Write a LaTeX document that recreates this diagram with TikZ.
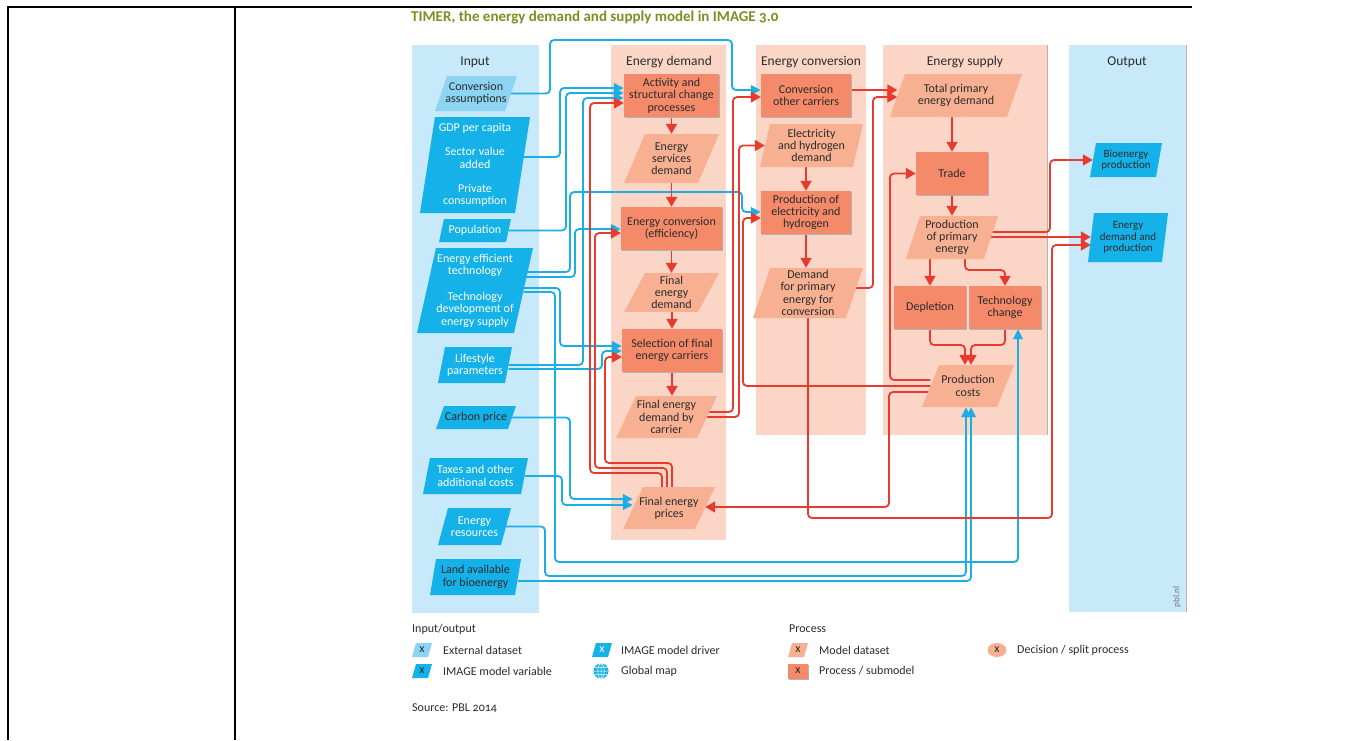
\documentclass[tikz,border=0pt]{standalone}
\usepackage{fontspec}
\setmainfont{Carlito}[Numbers=OldStyle]
\usetikzlibrary{arrows.meta,calc,shapes.geometric}
\pgfdeclarelayer{bg}\pgfdeclarelayer{wires}\pgfsetlayers{bg,wires,main}
\definecolor{inbg}{HTML}{C7E9F9}
\definecolor{peach}{HTML}{FBD6C6}
\definecolor{procfill}{HTML}{F48A69}
\definecolor{modfill}{HTML}{F8B093}
\definecolor{extblue}{HTML}{8DD3F2}
\definecolor{cyanb}{HTML}{14B2E8}
\definecolor{redl}{HTML}{E63B2E}
\definecolor{bluel}{HTML}{1AAEE5}
\definecolor{txt}{HTML}{2B2B2B}
\definecolor{titlec}{HTML}{7F8E22}
\newcommand\dfont{\fontsize{12}{12.3}\selectfont}
\newcommand\hfont{\fontsize{13.5}{15}\selectfont}
\newcommand\ofont{\fontsize{11}{11.6}\selectfont}
\newcommand\tfont{\fontsize{15}{17}\selectfont\bfseries}
% #1 name, #2 x, #3 y, #4 total width, #5 height, #6 slant, #7 style, #8 text
\newcommand\pgram[8]{%
  \fill[#7] ({#2-#4/2},{#3+#5/2}) -- ({#2+#4/2-#6},{#3+#5/2}) -- ({#2+#4/2},{#3-#5/2}) -- ({#2-#4/2+#6},{#3-#5/2}) -- cycle;
  \node[#7, fill=none, minimum width={#4-#6}, minimum height=#5] (#1) at (#2,#3) {#8};}
\tikzset{
  base/.style={font=\dfont, align=center, inner sep=0pt, text=txt},
  dsext/.style={base, fill=extblue},
  dsvar/.style={base, fill=cyanb},
  dsdrv/.style={base, fill=cyanb, text=white},
  dsmod/.style={base, fill=modfill},
  dsout/.style={base, fill=cyanb, font=\ofont},
  proc/.style={base, rectangle, fill=procfill,
    preaction={fill=black!30, transform canvas={xshift=1.2pt,yshift=-1.2pt}}},
  hd/.style={font=\hfont, text=txt, inner sep=0pt},
  legt/.style={font=\dfont, text=txt, anchor=west, inner sep=0pt},
  wire/.style={line width=1.8pt, rounded corners=4pt},
  rw/.style={wire, draw=redl, -{Triangle[length=10pt,width=11pt]}},
  bw/.style={wire, draw=bluel, -{Triangle[length=10pt,width=9.5pt]}}
}
\begin{document}
\begin{tikzpicture}[x=1pt,y=-1pt]
\useasboundingbox (0,0) rectangle (1362,740);
\begin{pgfonlayer}{bg}
\fill[white] (0,0) rectangle (1362,740);
\fill[inbg] (412,45) rectangle (539,613);
\fill[peach] (611,45) rectangle (726,540);
\fill[peach] (756,45) rectangle (866,435);
\fill[peach] (883,45) rectangle (1047,435);
\draw[black!30, line width=1pt] (1047,45) -- (1047,435);
\fill[inbg] (1069,45) rectangle (1186,612);
\draw[black!30, line width=1pt] (1186,45) -- (1186,612);
\end{pgfonlayer}
% table rules
\draw[line width=1.4pt] (8,740) -- (8,7) -- (1192,7);
\draw[line width=1.4pt] (235,7) -- (235,740);
% title
\node[font=\tfont, text=titlec, anchor=west, inner sep=0pt] (title) at (411,18) {TIMER, the energy demand and supply model in IMAGE 3.0};
% headers
\node[hd] (hin) at (475,62) {Input};
\node[hd] (hdem) at (669,62) {Energy demand};
\node[hd] (hconv) at (811,62) {Energy conversion};
\node[hd] (hsup) at (965,62) {Energy supply};
\node[hd] (hout) at (1127,62) {Output};
\node[font=\fontsize{9}{10}\selectfont, text=black!55, rotate=90, inner sep=0pt] (pbl) at (1177,597) {pbl.nl};
% inputs
\pgram{ca}{476}{93.5}{82}{35}{12}{dsext}{Conversion\\assumptions}
\pgram{gdp}{475}{165}{110}{96}{15}{dsdrv}{GDP per capita\\[12pt]Sector value\\added\\[12pt]Private\\consumption}
\pgram{pop}{475}{230.5}{72}{23}{5}{dsdrv}{Population}
\pgram{eet}{475}{290.5}{116}{85}{19}{dsdrv}{Energy efficient\\technology\\[14pt]Technology\\development of\\energy supply}
\pgram{life}{475}{365}{74}{36}{7}{dsdrv}{Lifestyle\\parameters}
\pgram{carb}{476}{417.5}{80}{23}{8}{dsvar}{Carbon price}
\pgram{tax}{475.5}{476}{105}{36}{7}{dsdrv}{Taxes and other\\additional costs}
\pgram{res}{474.5}{526.5}{73}{37}{10}{dsdrv}{Energy\\resources}
\pgram{land}{475.5}{577}{91}{36}{6}{dsvar}{Land available\\for bioenergy}
% energy demand
\node[proc, minimum width=95, minimum height=43] (act) at (671.5,95.5) {Activity and\\structural change\\processes};
\pgram{esd}{671.5}{158.5}{95}{49}{21}{dsmod}{Energy\\services\\demand}
\node[proc, minimum width=101, minimum height=43] (ec) at (671.5,228.5) {Energy conversion\\(efficiency)};
\pgram{fed}{671.5}{292.5}{95}{39}{21}{dsmod}{Final\\energy\\demand}
\node[proc, minimum width=100, minimum height=43] (sel) at (672,350.5) {Selection of final\\energy carriers};
\pgram{fedc}{666.5}{417}{101}{42}{20}{dsmod}{Final energy\\demand by\\carrier}
\pgram{fep}{669}{508}{92}{42}{20}{dsmod}{Final energy\\prices}
% energy conversion
\node[proc, minimum width=90, minimum height=43] (coc) at (806,95.5) {Conversion\\other carriers};
\pgram{ehd}{811.5}{145.5}{103}{43}{10}{dsmod}{Electricity\\and hydrogen\\demand}
\node[proc, minimum width=90, minimum height=43] (pe) at (806,212.5) {Production of\\electricity and\\hydrogen};
\pgram{dpec}{808}{293}{110}{50}{17}{dsmod}{Demand\\for primary\\energy for\\conversion}
% energy supply
\pgram{tped}{956}{95.5}{132}{43}{15}{dsmod}{Total primary\\energy demand}
\node[proc, minimum width=72, minimum height=43] (trade) at (952,173.5) {Trade};
\pgram{ppe}{952}{237.5}{92}{43}{14}{dsmod}{Production\\of primary\\energy}
\node[proc, minimum width=72, minimum height=43] (dep) at (930,307.5) {Depletion};
\node[proc, minimum width=72, minimum height=43] (tc) at (1005,307.5) {Technology\\change};
\pgram{pc}{968}{386}{92}{42}{17}{dsmod}{Production\\costs}
% outputs
\pgram{bio}{1126}{160}{72}{34}{6}{dsout}{Bioenergy\\production}
\pgram{edp}{1128}{237.5}{80}{49}{6}{dsout}{Energy\\demand and\\production}
% legend
\node[legt] (lio) at (412,629) {Input/output};
\pgram{lg1}{422}{650}{20}{14}{4}{dsext}{x}
\node[legt] (lt1) at (443,650) {External dataset};
\pgram{lg2}{422}{671}{20}{14}{4}{dsvar}{x}
\node[legt] (lt2) at (443,671) {IMAGE model variable};
\pgram{lg3}{602}{650}{20}{14}{4}{dsdrv}{x}
\node[legt] (lt3) at (621,650) {IMAGE model driver};
\node[circle, fill=cyanb, minimum size=15, inner sep=0pt,
  path picture={\draw[white, line width=0.5pt]
    (path picture bounding box.center) ellipse (3.2 and 7.5)
    (path picture bounding box.north) -- (path picture bounding box.south)
    ($(path picture bounding box.west)+(0,-3.5)$) -- ++(16,0)
    (path picture bounding box.west) -- (path picture bounding box.east)
    ($(path picture bounding box.west)+(0,3.5)$) -- ++(16,0);}] (globe) at (601,671) {};
\node[legt] (lt4) at (621,671) {Global map};
\node[legt] (lpr) at (789,629) {Process};
\pgram{lg5}{798}{650}{20}{14}{4}{dsmod}{x}
\node[legt] (lt5) at (819,650) {Model dataset};
\node[proc, minimum width=20, minimum height=15] (lg6) at (798,671) {x};
\node[legt] (lt6) at (819,671) {Process / submodel};
\node[base, ellipse, fill=modfill, minimum width=19, minimum height=14] (lg7) at (997,650) {x};
\node[legt] (lt7) at (1017,650) {Decision / split process};
\node[legt] (src) at (412,708) {Source: PBL 2014};
% connectors
\begin{pgfonlayer}{wires}
% blue
\draw[bw] (ca.east) -- (550,93.5) -- (550,40) -- (732,40) -- (732,90) -- (coc.west |- 0,90);
\draw[bw] (gdp.east |- 0,157) -- (560,157) -- (560,88) -- (act.west |- 0,88);
\draw[bw] (pop.east) -- (566,230.5) -- (566,93) -- (act.west |- 0,93);
\draw[bw] (life.east |- 0,365) -- (583,365) -- (583,98) -- (act.west |- 0,98);
\draw[bw] (eet.east |- 0,272) -- (570,272) -- (570,192) -- (742,192) -- (742,212) -- (pe.west |- 0,212);
\draw[bw] (eet.east |- 0,277) -- (575,277) -- (575,229) -- (ec.west |- 0,229);
\draw[bw] (eet.east |- 0,288) -- (560,288) -- (560,346) -- (sel.west |- 0,346);
\draw[bw] (eet.east |- 0,292) -- (555,292) -- (555,562) -- (1018,562) -- (1018,0 |- tc.south);
\draw[bw] (life.east |- 0,369) -- (602,369) -- (602,351) -- (sel.west |- 0,351);
\draw[bw] (carb.east) -- (570,417.5) -- (570,499) -- (fep.west |- 0,499);
\draw[bw] (tax.east) -- (562,476) -- (562,505) -- (fep.west |- 0,505);
\draw[bw] (res.east) -- (545,526.5) -- (545,576) -- (966,576) -- (966,0 |- pc.south);
\draw[bw] (land.east |- 0,581) -- (971,581) -- (971,0 |- pc.south);
% red
\draw[rw] (act.south) -- (esd.north);
\draw[rw] (esd.south) -- (ec.north);
\draw[rw] (ec.south) -- (fed.north);
\draw[rw] (sel.north |- fed.south) -- (sel.north);
\draw[rw] (sel.south) -- (sel.south |- fedc.north);
\draw[rw] (fedc.east |- 0,412) -- (733,412) -- (733,97) -- (coc.west |- 0,97);
\draw[rw] (fedc.east |- 0,417) -- (739,417) -- (739,145.5) -- (ehd.west);
\draw[rw] (pe.north |- ehd.south) -- (pe.north);
\draw[rw] (pe.south) -- (pe.south |- dpec.north);
\draw[rw] (coc.east |- 0,90) -- (tped.west |- 0,90);
\draw[rw] (dpec.east |- 0,288) -- (873,288) -- (873,97) -- (tped.west |- 0,97);
\draw[rw] (trade.north |- tped.south) -- (trade.north);
\draw[rw] (trade.south) -- (trade.south |- ppe.north);
\draw[rw] (dep.north |- ppe.south) -- (dep.north);
\draw[rw] (965,0 |- ppe.south) -- (965,270) -- (1005,270) -- (tc.north);
\draw[rw] (dep.south) -- (930,345) -- (965,345) -- (965,0 |- pc.north);
\draw[rw] (tc.south) -- (1005,345) -- (971,345) -- (971,0 |- pc.north);
\draw[rw] (pc.west |- 0,380) -- (890,380) -- (890,173.5) -- (trade.west);
\draw[rw] (pc.west |- 0,386) -- (743,386) -- (743,218) -- (pe.west |- 0,218);
\draw[rw] (pc.west |- 0,392) -- (889,392) -- (889,507) -- (fep.east |- 0,507);
\draw[rw] (dpec.south) -- (dpec.south |- 0,518) -- (1052,518) -- (1052,245) -- (edp.west |- 0,245);
\draw[rw] (ppe.east |- 0,232) -- (1050,232) -- (1050,160) -- (bio.west);
\draw[rw] (ppe.east |- 0,237) -- (edp.west |- 0,237);
\draw[rw] (672,0 |- fep.north) -- (672,463) -- (605,463) -- (605,357) -- (sel.west |- 0,357);
\draw[rw] (667,0 |- fep.north) -- (667,468) -- (595,468) -- (595,233) -- (ec.west |- 0,233);
\draw[rw] (662,0 |- fep.north) -- (662,473) -- (590,473) -- (590,103) -- (act.west |- 0,103);
\end{pgfonlayer}
\end{tikzpicture}
\end{document}
